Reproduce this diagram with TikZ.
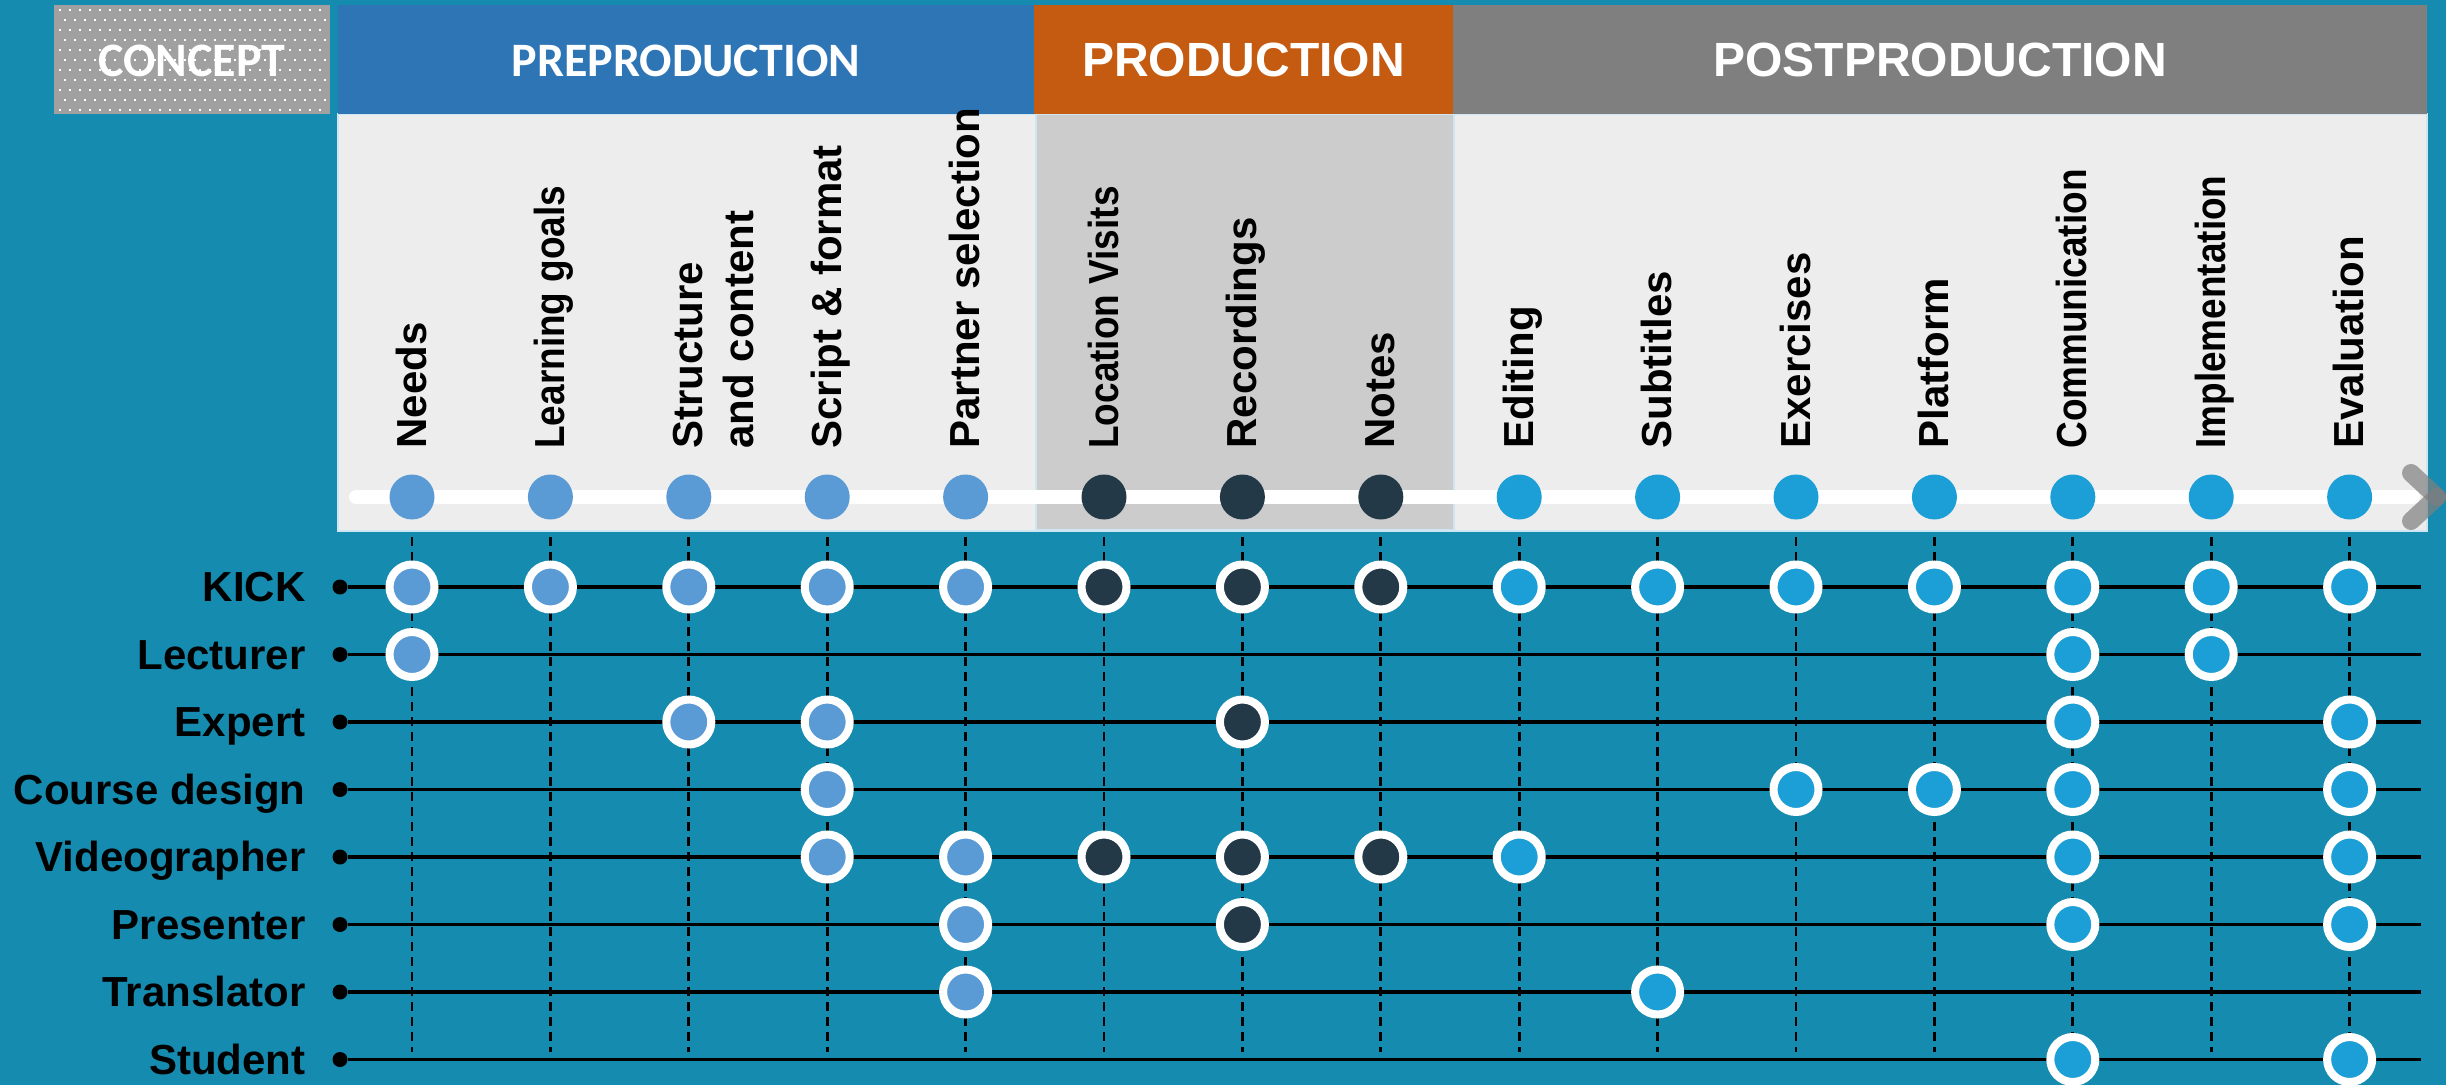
\documentclass[tikz,border=0pt]{standalone}
\usepackage{fontspec}
\setmainfont{Liberation Sans}
\newfontfamily\calfont{Carlito}
\definecolor{bgteal}{RGB}{21,139,175}
\definecolor{preblue}{RGB}{46,117,182}
\definecolor{prodorange}{RGB}{197,90,17}
\definecolor{postgray}{RGB}{127,127,127}
\definecolor{conceptgray}{RGB}{160,160,160}
\definecolor{panelgray}{RGB}{237,237,237}
\definecolor{shadegray}{RGB}{204,204,204}
\definecolor{paneledge}{RGB}{205,230,242}
\definecolor{cpre}{RGB}{91,155,213}
\definecolor{cprod}{RGB}{35,57,71}
\definecolor{cpost}{RGB}{27,159,214}
\newcommand\setphasecol[1]{\ifnum#1<6 \def\pc{cpre}\else\ifnum#1<9 \def\pc{cprod}\else\def\pc{cpost}\fi\fi}
\begin{document}
\begin{tikzpicture}[x=0.5pt,y=-0.5pt,
  hdrtext/.style={text=white,font=\bfseries\fontsize{24}{28}\selectfont,inner sep=0pt,anchor=base},
  coltext/.style={font=\bfseries\fontsize{21}{25}\selectfont,rotate=90,anchor=base west,inner sep=0pt},
  rowtext/.style={font=\bfseries\fontsize{21}{25}\selectfont,anchor=base east,inner sep=0pt},
  topdot/.style={circle,inner sep=0pt,minimum size=22.5pt,fill=\pc},
  roledot/.style={circle,inner sep=0pt,minimum size=22.5pt,fill=\pc,draw=white,line width=4pt},
  rowdot/.style={circle,inner sep=0pt,minimum size=7.5pt,fill=black},
  rowline/.style={black,line width=1.65pt},
  dashline/.style={black,line width=1.35pt,dash pattern=on 4.5pt off 3pt}]
\useasboundingbox (0,0) rectangle (2446,1085);
\fill[bgteal] (0,0) rectangle (2446,1085);
% panel
\filldraw[fill=panelgray,draw=paneledge,line width=1pt] (338,114) rectangle (2427,531);
\filldraw[fill=shadegray,draw=paneledge,line width=1pt] (1036,114) rectangle (1454,530);
% header boxes
\fill[conceptgray] (54,5) rectangle (330,114);
\foreach \j in {0,...,10}{\foreach \i in {0,...,26}{\fill[white] ({59+10*\i+5*mod(\j,2)},{9+10*\j}) rectangle ++(2,2);}}
\fill[preblue] (338,5) rectangle (1034,114);
\fill[prodorange] (1034,5) rectangle (1453,114);
\fill[postgray] (1453,5) rectangle (2427,114);
\node[hdrtext,font=\calfont\bfseries\fontsize{24}{28}\selectfont] (hconcept) at (192,77) {CONCEPT};
\node[hdrtext,font=\calfont\bfseries\fontsize{24}{28}\selectfont] (hpre) at (686,77) {PREPRODUCTION};
\node[hdrtext] (hprod) at (1243.5,77) {PRODUCTION};
\node[hdrtext] (hpost) at (1940,77) {POSTPRODUCTION};
% timeline bar
\coordinate (tlstart) at (356,497);
\coordinate (tlend) at (2413,497);
\draw[white,line width=7pt,line cap=round] (tlstart) -- (tlend);
% chevron
\coordinate (chtop) at (2411,473);
\coordinate (chtip) at (2437,497);
\coordinate (chbot) at (2411,521);
\draw[postgray,opacity=0.7,line width=9pt,line cap=round] (chtop) -- (chtip);
\draw[postgray,opacity=0.7,line width=9pt,line cap=round] (chbot) -- (chtip);
% top dots
\foreach \c in {1,...,15}{
  \setphasecol{\c}
  \pgfmathsetmacro\xx{412+(\c-1)*138.4}
  \node[topdot] (td\c) at (\xx,497) {};
}
% column labels
\node[coltext] (l1) at (426,449) {Needs};
\node[coltext] (l2) at (564.4,449) {\scalebox{0.88}[1]{Learning goals}};
\node[coltext] (l3a) at (702.8,449) {Structure};
\node[coltext] (l3b) at (753.8,449) {and content};
\node[coltext] (l4) at (841.2,449) {Script \& format};
\node[coltext] (l5) at (979.6,449) {Partner selection};
\node[coltext] (l6) at (1118,449) {\scalebox{0.88}[1]{Location Visits}};
\node[coltext] (l7) at (1256.4,449) {Recordings};
\node[coltext] (l8) at (1394.8,449) {Notes};
\node[coltext] (l9) at (1533.2,449) {Editing};
\node[coltext] (l10) at (1671.6,449) {Subtitles};
\node[coltext] (l11) at (1810,449) {Exercises};
\node[coltext] (l12) at (1948.4,449) {Platform};
\node[coltext] (l13) at (2086.8,449) {\scalebox{0.88}[1]{Communication}};
\node[coltext] (l14) at (2225.2,449) {\scalebox{0.88}[1]{Implementation}};
\node[coltext] (l15) at (2363.6,449) {Evaluation};
% dashed column lines
\foreach \c in {1,...,15}{
  \pgfmathsetmacro\xx{412+(\c-1)*138.4}
  \coordinate (dt\c) at (\xx,537);
  \coordinate (db\c) at (\xx,1052);
  \draw[dashline] (dt\c) -- (db\c);
}
% role rows
\foreach \r/\name in {1/KICK,2/Lecturer,3/Expert,4/Course design,5/Videographer,6/Presenter,7/Translator,8/Student}{
  \pgfmathsetmacro\yy{587+(\r-1)*67.5}
  \pgfmathsetmacro\yb{\yy+14.5}
  \node[rowtext] (rl\r) at (306,\yb) {\name};
  \node[rowdot] (rd\r) at (340,\yy) {};
  \coordinate (re\r) at (2421,\yy);
  \draw[rowline] (rd\r) -- (re\r);
}
% role participation
\foreach \r/\c in {1/1,1/2,1/3,1/4,1/5,1/6,1/7,1/8,1/9,1/10,1/11,1/12,1/13,1/14,1/15,
  2/1,2/13,2/14,
  3/3,3/4,3/7,3/13,3/15,
  4/4,4/11,4/12,4/13,4/15,
  5/4,5/5,5/6,5/7,5/8,5/9,5/13,5/15,
  6/5,6/7,6/13,6/15,
  7/5,7/10,
  8/13,8/15}{
  \setphasecol{\c}
  \pgfmathsetmacro\xx{412+(\c-1)*138.4}
  \pgfmathsetmacro\yy{587+(\r-1)*67.5}
  \node[roledot] (m\r-\c) at (\xx,\yy) {};
}
\end{tikzpicture}
\end{document}
